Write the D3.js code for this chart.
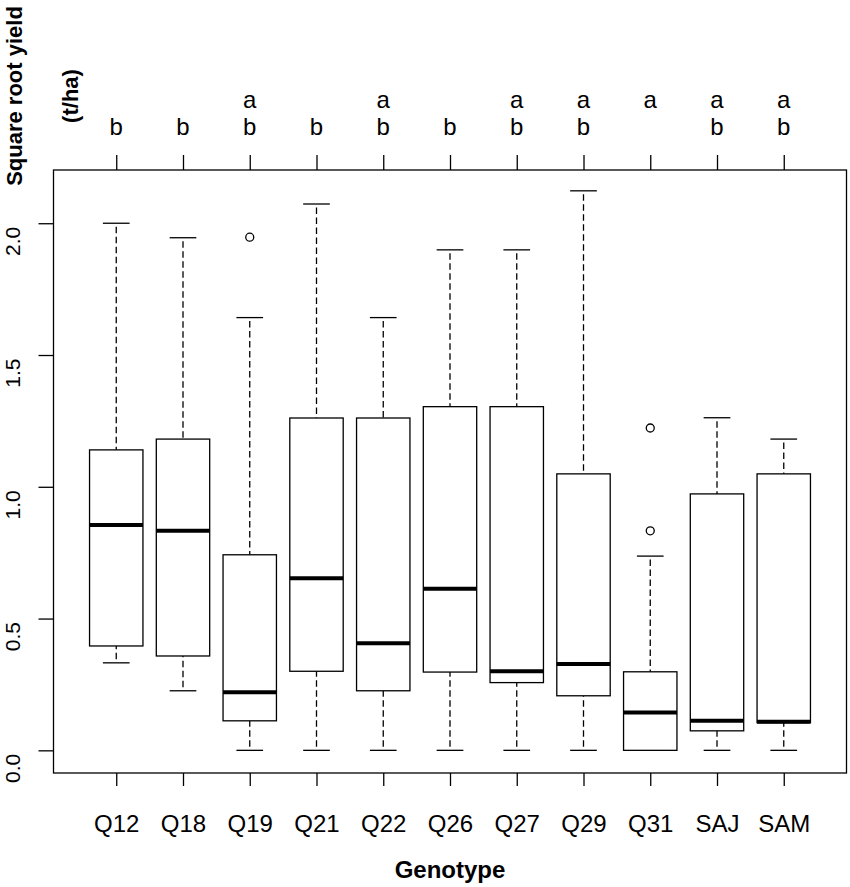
<!DOCTYPE html>
<html>
<head>
<meta charset="utf-8">
<script src="https://cdn.jsdelivr.net/npm/d3@7"></script>
<style>
  body { margin: 0; background: #fff; }
  text { font-family: "Liberation Sans", Arial, Helvetica, sans-serif; }
</style>
</head>
<body>
<script>
// values (square root yield, t/ha)
var genotypes = ["Q12", "Q18", "Q19", "Q21", "Q22", "Q26", "Q27", "Q29", "Q31", "SAJ", "SAM"];
var lowerWhisker = [0.332, 0.226, 0, 0, 0, 0, 0, 0, 0, 0, 0];
var lowerQuartile = [0.396, 0.358, 0.112, 0.300, 0.226, 0.297, 0.257, 0.207, 0, 0.074, 0.105];
var medians = [0.855, 0.833, 0.220, 0.653, 0.406, 0.613, 0.300, 0.328, 0.144, 0.112, 0.108];
var upperQuartile = [1.140, 1.181, 0.742, 1.261, 1.261, 1.304, 1.304, 1.049, 0.298, 0.973, 1.049];
var upperWhisker = [2.000, 1.945, 1.642, 2.073, 1.642, 1.899, 1.899, 2.123, 0.737, 1.262, 1.181];
var outliers = [[], [], [1.947], [], [], [], [], [], [1.223, 0.833], [], []];
var lettersTop = ["", "", "a", "", "a", "", "a", "a", "a", "a", "a"];
var lettersBottom = ["b", "b", "b", "b", "b", "b", "b", "b", "", "b", "b"];
var yTicks = [0, 0.5, 1.0, 1.5, 2.0];

var width = 850,
    height = 887;
var plot = {left: 53.5, right: 846.5, top: 170, bottom: 773};

var svg = d3.select("body").append("svg")
    .attr("width", width)
    .attr("height", height);

svg.append("rect")
    .attr("width", width)
    .attr("height", height)
    .attr("fill", "#fff");

// R style: positions 1..n, xlim 0.5..n+0.5 extended by 4%
var x = d3.scaleLinear()
    .domain([0.06, 11.94])
    .range([plot.left, plot.right]);
var y = d3.scaleLinear()
    .domain([-0.086, 2.202])
    .range([plot.bottom, plot.top]);

var boxW = x(1.4) - x(1),   // half of 0.8
    capW = x(1.2) - x(1);   // half of 0.4

var boxes = genotypes.map(function(g, i) {
  return {
    name: g, pos: i + 1,
    lo: lowerWhisker[i], q1: lowerQuartile[i], med: medians[i],
    q3: upperQuartile[i], hi: upperWhisker[i], out: outliers[i]
  };
});

var g = svg.append("g")
    .attr("fill", "none")
    .attr("stroke", "#000");

var box = g.selectAll(".box")
    .data(boxes)
  .enter().append("g")
    .attr("class", "box");

// whiskers (drawn from cap to box edge)
box.selectAll(".whisker")
    .data(d => [[d.hi, d.q3], [d.lo, d.q1]].map(w => ({pos: d.pos, from: w[0], to: w[1]})))
  .enter().append("line")
    .attr("x1", d => x(d.pos))
    .attr("x2", d => x(d.pos))
    .attr("y1", d => y(d.from))
    .attr("y2", d => y(d.to))
    .attr("stroke-width", 1.3)
    .attr("stroke-dasharray", "6.5,3.5")
    .attr("stroke-dashoffset", 6.5);

// caps
box.selectAll(".cap")
    .data(d => [d.hi, d.lo].map(v => ({pos: d.pos, v: v})))
  .enter().append("line")
    .attr("x1", d => x(d.pos) - capW)
    .attr("x2", d => x(d.pos) + capW)
    .attr("y1", d => y(d.v))
    .attr("y2", d => y(d.v))
    .attr("stroke-width", 1.3);

box.append("rect")
    .attr("x", d => x(d.pos) - boxW)
    .attr("width", 2 * boxW)
    .attr("y", d => y(d.q3))
    .attr("height", d => y(d.q1) - y(d.q3))
    .attr("fill", "#fff")
    .attr("stroke-width", 1.3);

box.append("line")
    .attr("x1", d => x(d.pos) - boxW)
    .attr("x2", d => x(d.pos) + boxW)
    .attr("y1", d => y(d.med))
    .attr("y2", d => y(d.med))
    .attr("stroke-width", 4);

box.selectAll("circle")
    .data(d => d.out.map(v => ({pos: d.pos, v: v})))
  .enter().append("circle")
    .attr("cx", d => x(d.pos))
    .attr("cy", d => y(d.v))
    .attr("r", 4)
    .attr("stroke-width", 1.3);

// frame
svg.append("rect")
    .attr("x", plot.left)
    .attr("y", plot.top)
    .attr("width", plot.right - plot.left)
    .attr("height", plot.bottom - plot.top)
    .attr("fill", "none")
    .attr("stroke", "#000")
    .attr("stroke-width", 1.3);

// left axis
var yAxis = svg.append("g")
    .attr("transform", `translate(${plot.left},0)`)
    .call(d3.axisLeft(y).tickValues(yTicks).tickSize(15).tickFormat(d3.format(".1f")));
yAxis.select(".domain").remove();
yAxis.selectAll("line").attr("stroke-width", 1.3);
yAxis.selectAll("text")
    .attr("x", null).attr("dy", null)
    .attr("transform", "translate(-34,3) rotate(-90)")
    .attr("text-anchor", "end")
    .attr("font-size", 21)
    .attr("fill", "#000");

// bottom axis
var xAxis = svg.append("g")
    .attr("transform", `translate(0,${plot.bottom})`)
    .call(d3.axisBottom(x).tickValues(d3.range(1, 12)).tickSize(13)
      .tickFormat(i => genotypes[i - 1]));
xAxis.select(".domain").remove();
xAxis.selectAll("line").attr("stroke-width", 1.3);
xAxis.selectAll("text")
    .attr("y", 59).attr("dy", null)
    .attr("font-size", 24)
    .attr("fill", "#000");

// top axis with group letters
var topAxis = svg.append("g")
    .attr("transform", `translate(0,${plot.top})`)
    .call(d3.axisTop(x).tickValues(d3.range(1, 12)).tickSize(15).tickFormat(""));
topAxis.select(".domain").remove();
topAxis.selectAll("line").attr("stroke-width", 1.3);

svg.append("g").selectAll("text")
    .data(lettersTop)
  .enter().append("text")
    .attr("x", (d, i) => x(i + 1))
    .attr("y", 108)
    .attr("text-anchor", "middle")
    .attr("font-size", 24)
    .text(d => d);

svg.append("g").selectAll("text")
    .data(lettersBottom)
  .enter().append("text")
    .attr("x", (d, i) => x(i + 1))
    .attr("y", 135)
    .attr("text-anchor", "middle")
    .attr("font-size", 24)
    .text(d => d);

// axis titles
svg.append("text")
    .attr("x", (plot.left + plot.right) / 2)
    .attr("y", 878)
    .attr("text-anchor", "middle")
    .attr("font-size", 24)
    .attr("font-weight", "bold")
    .text("Genotype");

svg.append("text")
    .attr("transform", "translate(22,96) rotate(-90)")
    .attr("text-anchor", "middle")
    .attr("font-size", 22)
    .attr("font-weight", "bold")
    .text("Square root yield");

svg.append("text")
    .attr("transform", "translate(78,96) rotate(-90)")
    .attr("text-anchor", "middle")
    .attr("font-size", 22)
    .attr("font-weight", "bold")
    .text("(t/ha)");
</script>
</body>
</html>
